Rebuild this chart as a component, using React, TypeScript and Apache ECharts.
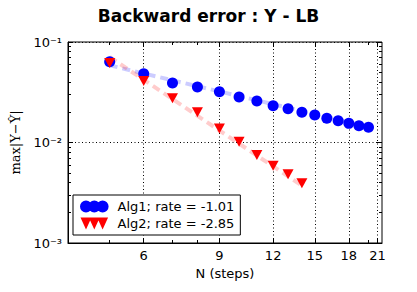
import React, { useEffect, useRef } from "react";
import * as echarts from "echarts";

const N1 = [5, 6, 7, 8, 9, 10, 11, 12, 13, 14, 15, 16, 17, 18, 19, 20];
const alg1 = [0.0637, 0.0484, 0.0391, 0.0356, 0.032, 0.0284, 0.0259, 0.0232, 0.0217, 0.02, 0.0188, 0.0174, 0.0165, 0.0155, 0.0147, 0.0142];
const N2 = [5, 6, 7, 8, 9, 10, 11, 12, 13, 14];
const alg2 = [0.0618, 0.0409, 0.0275, 0.02, 0.0138, 0.0102, 0.0075, 0.00588, 0.00483, 0.00393];
const fit1N = [5, 20];
const fit1 = [0.0586, 0.0143];
const fit2N = [5, 14];
const fit2 = [0.0709, 0.00372];
const xMajor = [6, 9, 12, 15, 18, 21];
const xMinor = [5, 7, 8, 20];
const yMajor = [0.001, 0.01, 0.1];
const yMinor = [0.002, 0.003, 0.004, 0.005, 0.006, 0.007, 0.008, 0.009, 0.02, 0.03, 0.04, 0.05, 0.06, 0.07, 0.08, 0.09];
const name1 = "Alg1; rate = -1.01";
const name2 = "Alg2; rate = -2.85";

const FONT = "DejaVu Sans";
const supMap: Record<string, string> = { "-": "⁻", "1": "¹", "2": "²", "3": "³" };

const zip = (xs: number[], ys: number[]) => xs.map((x, i) => [x, ys[i]]);

const circles3 =
  "path://M0,6a6,6 0 1,0 12,0a6,6 0 1,0 -12,0Z M8.3,6a6,6 0 1,0 12,0a6,6 0 1,0 -12,0Z M16.6,6a6,6 0 1,0 12,0a6,6 0 1,0 -12,0Z";
const tri3 = "path://M0,0L11,0L5.5,12Z M8.3,0L19.3,0L13.8,12Z M16.6,0L27.6,0L22.1,12Z";

export default function App() {
  const ref = useRef<HTMLDivElement>(null);
  useEffect(() => {
    if (!ref.current) return;
    const chart = echarts.init(ref.current, null, { renderer: "svg" });
    const xBase = {
      type: "log",
      logBase: 10,
      min: 4,
      max: 21.5,
    };
    const yBase = {
      type: "log",
      logBase: 10,
      min: 0.001,
      max: 0.1,
    };
    chart.setOption({
      animation: false,
      backgroundColor: "#fff",
      title: {
        text: "Backward error : Y - LB",
        left: "center",
        top: 2,
        textStyle: { fontFamily: FONT, fontWeight: "bold", fontSize: 17, color: "#000" },
      },
      grid: [
        { left: 68, right: 35, top: 42, bottom: 49, show: true, borderColor: "#000", borderWidth: 1, containLabel: false },
        { left: 68, right: 35, top: 42, bottom: 49, show: false, containLabel: false },
      ],
      xAxis: [
        {
          ...xBase,
          gridIndex: 0,
          position: "bottom",
          name: "N (steps)",
          nameLocation: "middle",
          nameGap: 24,
          nameTextStyle: { fontFamily: FONT, fontSize: 13, color: "#000" },
          axisLine: { show: true, lineStyle: { color: "#000", width: 1 } },
          axisTick: { show: true, inside: true, length: 5, customValues: xMajor, lineStyle: { color: "#000" } },
          axisLabel: { show: true, customValues: xMajor, margin: 6, fontFamily: FONT, fontSize: 13, color: "#000", formatter: (v: number) => String(Math.round(v)) },
          splitLine: { show: true, lineStyle: { color: "#000", width: 1, type: [1, 2.5] } },
        },
        {
          ...xBase,
          gridIndex: 0,
          position: "top",
          axisLine: { show: false },
          axisTick: { show: true, inside: true, length: 5, customValues: xMajor, lineStyle: { color: "#000" } },
          axisLabel: { show: false },
          splitLine: { show: false },
        },
        {
          ...xBase,
          gridIndex: 1,
          position: "bottom",
          axisLine: { show: false },
          axisTick: { show: true, inside: true, length: 3, customValues: xMinor, lineStyle: { color: "#000" } },
          axisLabel: { show: false },
          splitLine: { show: false },
        },
        {
          ...xBase,
          gridIndex: 1,
          position: "top",
          axisLine: { show: false },
          axisTick: { show: true, inside: true, length: 3, customValues: xMinor, lineStyle: { color: "#000" } },
          axisLabel: { show: false },
          splitLine: { show: false },
        },
      ],
      yAxis: [
        {
          ...yBase,
          gridIndex: 0,
          position: "left",
          name: "max|Y−Ŷ|",
          nameLocation: "middle",
          nameGap: 46,
          nameTextStyle: { fontFamily: "DejaVu Serif", fontSize: 13, color: "#000" },
          axisLine: { show: true, lineStyle: { color: "#000", width: 1 } },
          axisTick: { show: true, inside: true, length: 5, customValues: yMajor, lineStyle: { color: "#000" } },
          axisLabel: {
            show: true,
            customValues: yMajor,
            margin: 6,
            fontFamily: FONT,
            fontSize: 13,
            color: "#000",
            formatter: (v: number) => {
              const e = String(Math.round(Math.log10(v)));
              return "10" + e.split("").map((c) => supMap[c] || c).join("");
            },
          },
          splitLine: { show: true, lineStyle: { color: "#000", width: 1, type: [1, 2.5] } },
        },
        {
          ...yBase,
          gridIndex: 0,
          position: "right",
          axisLine: { show: false },
          axisTick: { show: true, inside: true, length: 5, customValues: yMajor, lineStyle: { color: "#000" } },
          axisLabel: { show: false },
          splitLine: { show: false },
        },
        {
          ...yBase,
          gridIndex: 1,
          position: "left",
          axisLine: { show: false },
          axisTick: { show: true, inside: true, length: 3, customValues: yMinor, lineStyle: { color: "#000" } },
          axisLabel: { show: false },
          splitLine: { show: false },
        },
        {
          ...yBase,
          gridIndex: 1,
          position: "right",
          axisLine: { show: false },
          axisTick: { show: true, inside: true, length: 3, customValues: yMinor, lineStyle: { color: "#000" } },
          axisLabel: { show: false },
          splitLine: { show: false },
        },
      ],
      legend: {
        left: 73,
        top: 195,
        orient: "vertical",
        backgroundColor: "#fff",
        borderColor: "#000",
        borderWidth: 1,
        borderRadius: 0,
        padding: [5, 6, 5, 7],
        itemGap: 4,
        itemWidth: 28.6,
        itemHeight: 12,
        symbolRotate: 0,
        textStyle: { fontFamily: FONT, fontSize: 13, color: "#000", padding: [0, 0, 0, 4] },
        data: [
          { name: name1, icon: circles3 },
          { name: name2, icon: tri3 },
        ],
      },
      series: [
        {
          type: "line",
          xAxisIndex: 0,
          yAxisIndex: 0,
          data: zip(fit1N, fit1),
          symbol: "none",
          silent: true,
          lineStyle: { color: "rgba(0,0,255,0.2)", width: 4, type: [8, 5] },
          z: 1,
        },
        {
          type: "line",
          xAxisIndex: 0,
          yAxisIndex: 0,
          data: zip(fit2N, fit2),
          symbol: "none",
          silent: true,
          lineStyle: { color: "rgba(255,0,0,0.2)", width: 4, type: [8, 5] },
          z: 1,
        },
        {
          name: name1,
          type: "scatter",
          xAxisIndex: 0,
          yAxisIndex: 0,
          data: zip(N1, alg1),
          symbol: "circle",
          symbolSize: 11,
          itemStyle: { color: "#0000ff", opacity: 1 },
          z: 3,
        },
        {
          name: name2,
          type: "scatter",
          xAxisIndex: 0,
          yAxisIndex: 0,
          data: zip(N2, alg2),
          symbol: "path://M0,0L10,0L5,9Z",
          symbolSize: [11, 10],
          itemStyle: { color: "#ff0000", opacity: 1 },
          z: 4,
        },
      ],
    });
    return () => chart.dispose();
  }, []);
  return <div ref={ref} style={{ position: "fixed", left: 0, top: 0, width: 417, height: 292 }} />;
}
